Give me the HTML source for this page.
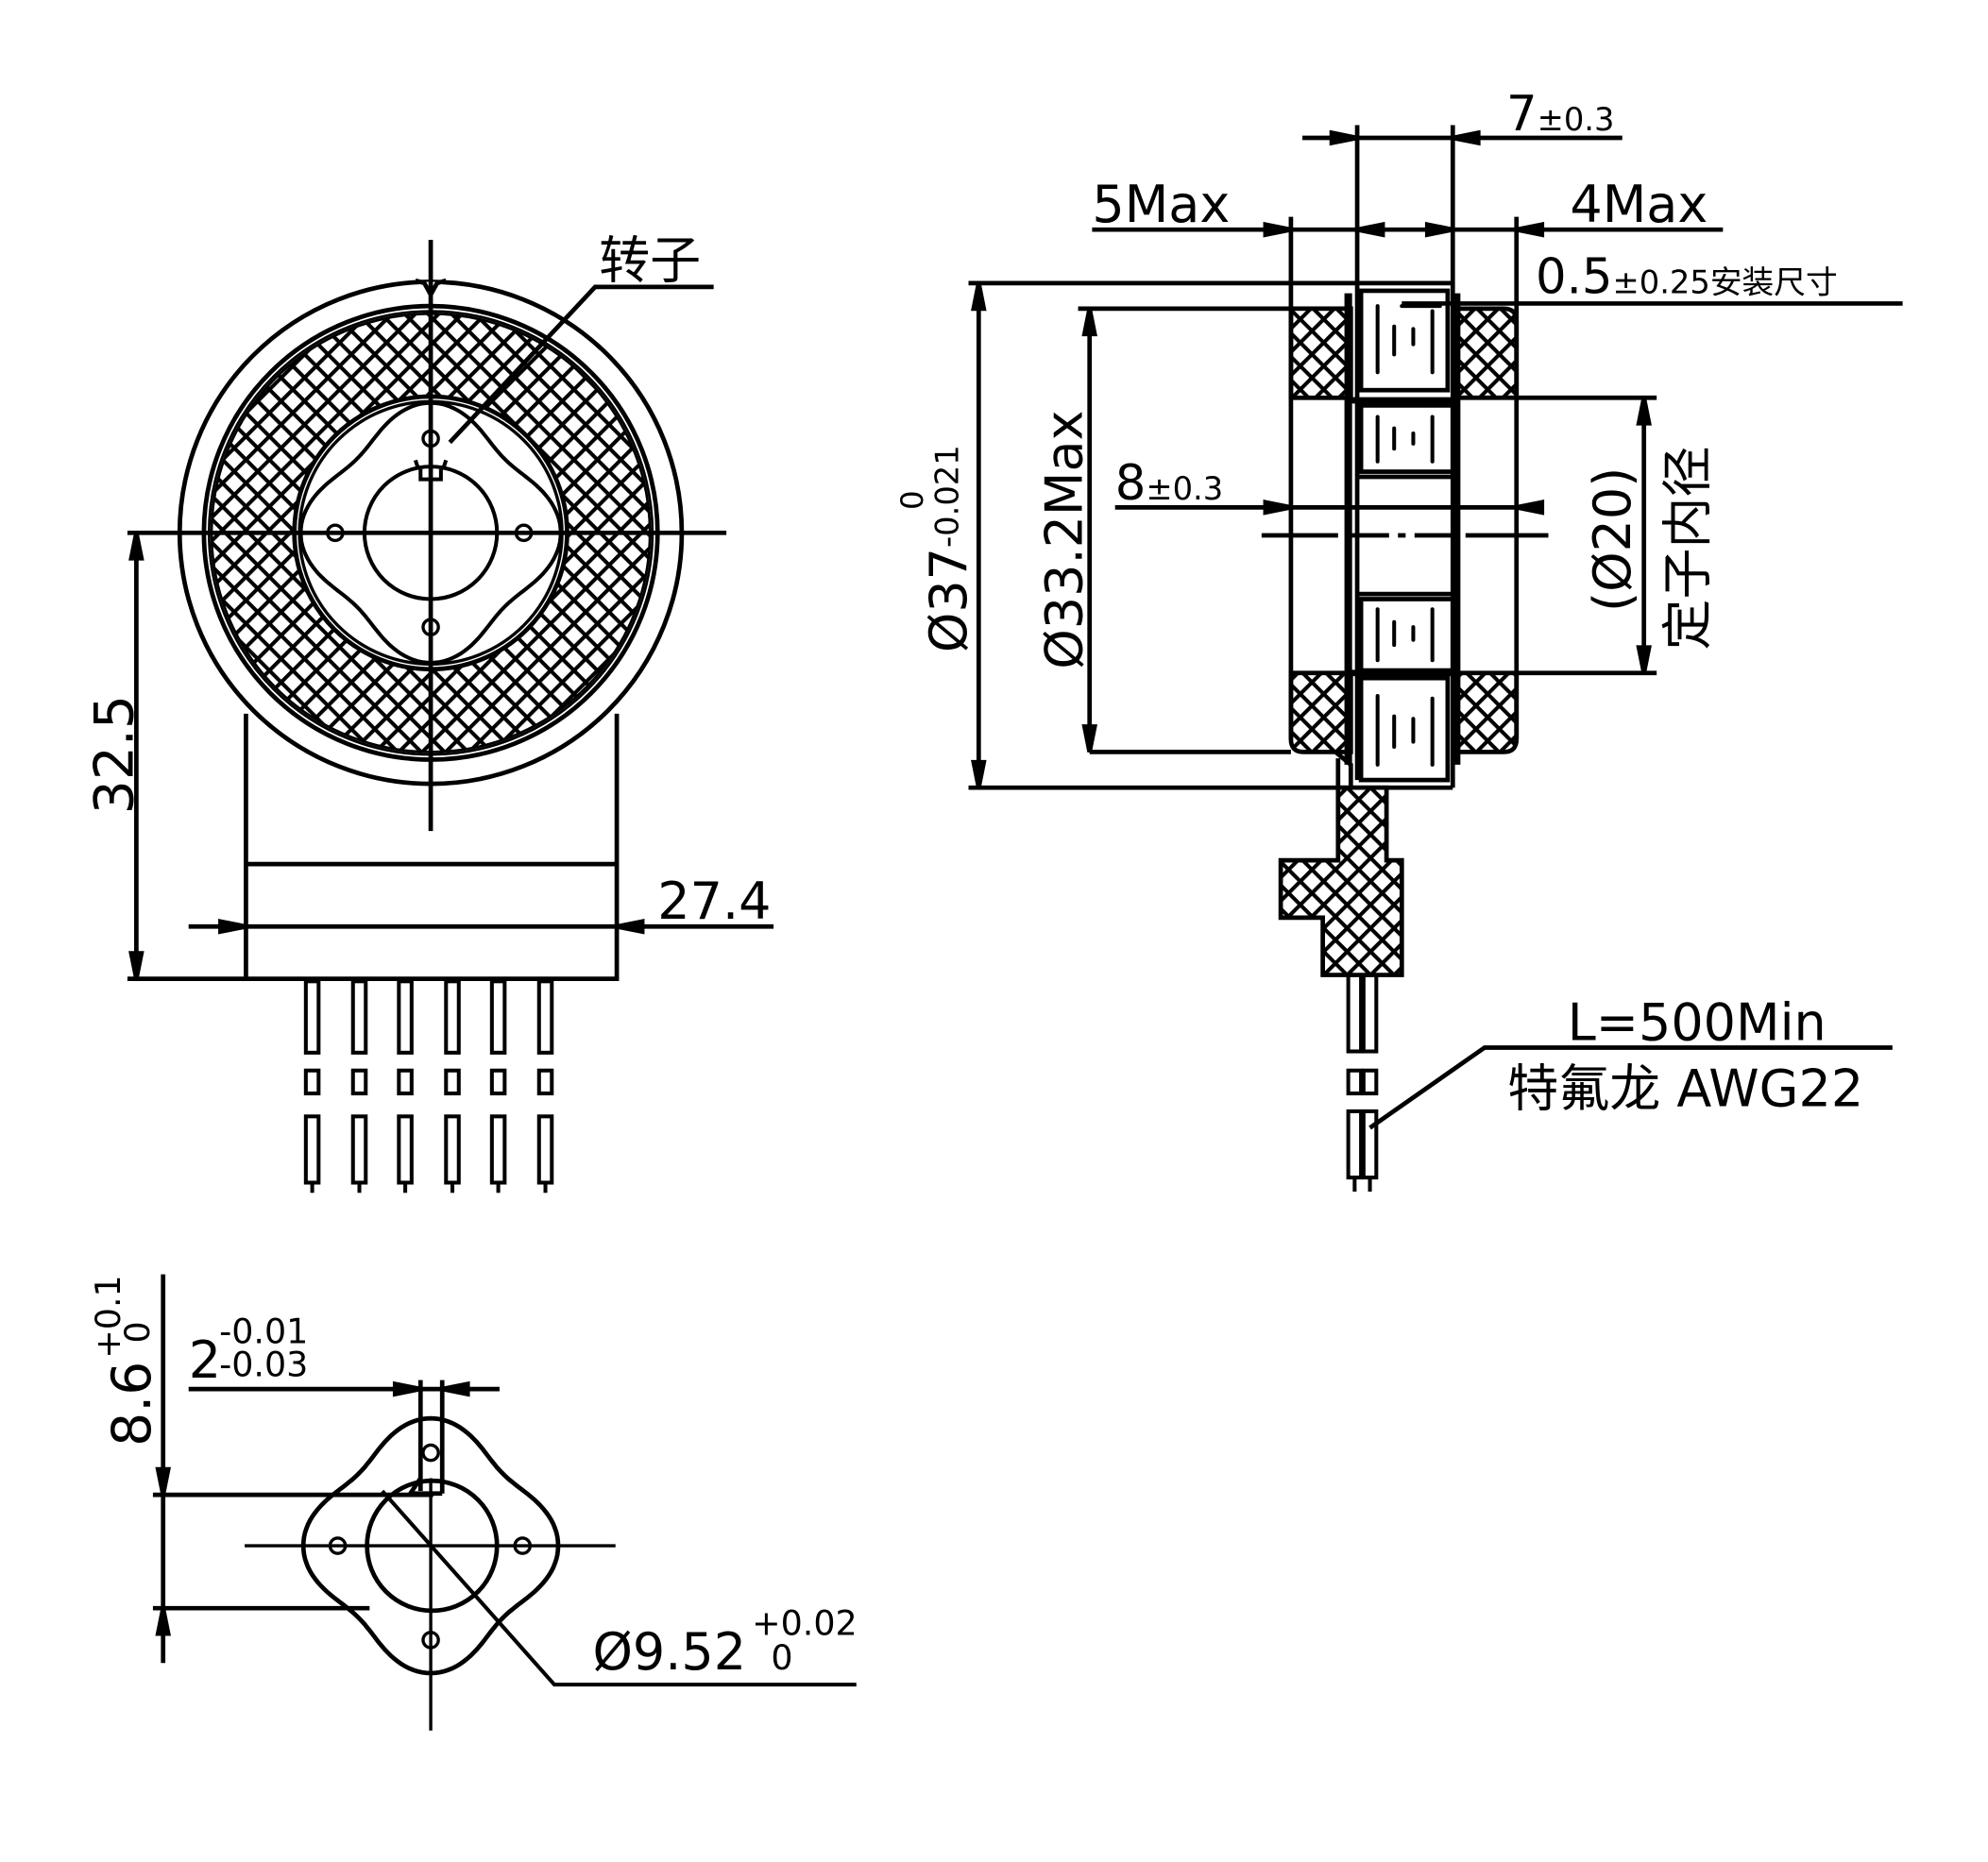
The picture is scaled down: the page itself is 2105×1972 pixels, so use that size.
<!DOCTYPE html>
<html><head><meta charset="utf-8"><style>
html,body{margin:0;padding:0;background:#fff}
svg{display:block}
text{font-family:"DejaVu Sans","Noto Sans CJK SC",sans-serif;fill:#000}
</style></head><body>
<svg id="s" width="2105" height="1972" viewBox="0 0 1560 1461" xmlns="http://www.w3.org/2000/svg">
<defs>
<pattern id="h" width="13" height="13" patternUnits="userSpaceOnUse" patternTransform="rotate(45)">
<rect width="13" height="13" fill="#fff"/>
<rect x="0" y="0" width="3" height="13" fill="#000"/><rect x="0" y="0" width="13" height="3" fill="#000"/>
</pattern>
</defs>
<g fill="none" stroke="#000" stroke-width="3.5">
<!-- LEFT VIEW -->
<path d="M193,560V768H484V560" />
<line x1="193" y1="678" x2="484" y2="678"/>
<circle cx="338" cy="418" r="197" fill="#fff"/>
<path d="M330,221 l8,9 l8,-9" fill="#fff" stroke="#fff" stroke-width="4"/>
<path d="M326,220 l7,2 l5,9 l5,-9 l7,-2"/>
<circle cx="338" cy="418" r="178"/>
<circle cx="338" cy="418" r="174" stroke-width="2"/>
<path d="M338,246a172,172 0 1,0 0.1,0z M338,311a107,107 0 1,1 -0.1,0z" fill="url(#h)" fill-rule="evenodd" stroke="none"/>
<circle cx="338" cy="418" r="172" stroke-width="2"/>
<circle cx="338" cy="418" r="107"/>
<circle cx="338" cy="418" r="103" fill="#fff" stroke-width="2.5"/>
<path id="f1" stroke-width="3" fill="#fff"/>
<circle cx="338" cy="418" r="52" stroke-width="3"/>
<path d="M328,367 l-2,-6 M348,367 l2,-6 M330,368 v8 h16 v-8" stroke-width="3" fill="#fff"/>
<circle cx="338" cy="344" r="6" stroke-width="2.5"/><circle cx="263" cy="418" r="6" stroke-width="2.5"/>
<circle cx="411" cy="418" r="6" stroke-width="2.5"/><circle cx="338" cy="492" r="6" stroke-width="2.5"/>
<line x1="100" y1="418" x2="570" y2="418"/>
<line x1="338" y1="188" x2="338" y2="652"/>
<path d="M353,347L467,225H560"/>
<!-- 32.5 -->
<line x1="100" y1="768" x2="193" y2="768"/>
<line x1="107" y1="418" x2="107" y2="768"/>
<path d="M103,438L107,418L111,438z M103,748L107,768L111,748z" fill="#000"/>
<!-- 27.4 -->
<line x1="148" y1="727" x2="607" y2="727"/>
<path d="M173,723L193,727L173,731z M504,723L484,727L504,731z" fill="#000"/>
<g id="pins" stroke-width="3"></g>

<!-- RIGHT VIEW -->
<line x1="760" y1="222" x2="1140" y2="222"/>
<line x1="760" y1="618" x2="1140" y2="618"/>
<line x1="768" y1="222" x2="768" y2="618"/>
<path d="M764,242L768,222L772,242z M764,598L768,618L772,598z" fill="#000"/>
<line x1="846" y1="242" x2="1060" y2="242"/>
<line x1="855" y1="590" x2="1013" y2="590"/>
<line x1="855" y1="242" x2="855" y2="590"/>
<path d="M851,262L855,242L859,262z M851,570L855,590L859,570z" fill="#000"/>
<rect x="1013" y="242" width="47" height="70" fill="url(#h)"/>
<path d="M1013,528H1060V590H1023Q1013,590 1013,580Z" fill="url(#h)"/>
<path d="M1143,242H1180Q1190,242 1190,252V312H1143Z" fill="url(#h)"/>
<path d="M1143,528H1190V580Q1190,590 1180,590H1143Z" fill="url(#h)"/>
<line x1="1013" y1="170" x2="1013" y2="580"/>
<line x1="1190" y1="170" x2="1190" y2="580"/>
<line x1="1065" y1="98" x2="1065" y2="612"/>
<line x1="1140" y1="98" x2="1140" y2="618"/>
<line x1="1058" y1="230" x2="1058" y2="600" stroke-width="6"/>
<line x1="1143" y1="230" x2="1143" y2="600" stroke-width="6"/>
<rect x="1068" y="228" width="68" height="78"/>
<rect x="1068" y="318" width="72" height="52"/>
<rect x="1068" y="470" width="72" height="56"/>
<rect x="1068" y="532" width="68" height="80"/>
<line x1="1060" y1="314" x2="1143" y2="314" stroke-width="5"/>
<line x1="1060" y1="528" x2="1143" y2="528" stroke-width="5"/>
<line x1="1065" y1="374" x2="1140" y2="374"/>
<line x1="1065" y1="466" x2="1140" y2="466"/>
<g stroke-width="3" stroke-linecap="round">
<path d="M1081,240V292M1094,256V278M1109,258V270M1124,244V292"/>
<path d="M1081,327V362M1094,336V352M1109,340V348M1124,327V362"/>
<path d="M1081,478V518M1094,488V506M1109,492V502M1124,478V518"/>
<path d="M1081,546V600M1094,562V586M1109,564V582M1124,548V600"/>
<path d="M1100,240H1130"/>
</g>
<line x1="1190" y1="312" x2="1300" y2="312"/>
<line x1="1190" y1="528" x2="1300" y2="528"/>
<line x1="1290" y1="312" x2="1290" y2="528"/>
<path d="M1286,332L1290,312L1294,332z M1286,508L1290,528L1294,508z" fill="#000"/>
<line x1="875" y1="398" x2="1190" y2="398"/>
<path d="M993,394L1013,398L993,402z M1210,394L1190,398L1210,402z" fill="#000"/>
<path d="M990,420H1050M1060,420H1090M1097,420H1103M1110,420H1140M1150,420H1215"/>
<line x1="1022" y1="108" x2="1273" y2="108"/>
<path d="M1045,104L1065,108L1045,112z M1160,104L1140,108L1160,112z" fill="#000"/>
<line x1="857" y1="180" x2="1352" y2="180"/>
<path d="M993,176L1013,180L993,184z M1085,176L1065,180L1085,184z M1120,176L1140,180L1120,184z M1210,176L1190,180L1210,184z" fill="#000"/>
<line x1="1100" y1="238" x2="1493" y2="238"/>
<path d="M1050,595V618H1050V675H1005V720H1038V765H1100V675H1088V618H1050" fill="url(#h)"/>
<path d="M1048,590L1060,600V618" />
<g stroke-width="3">
<rect x="1058" y="765" width="10" height="60"/><rect x="1070" y="765" width="10" height="60"/>
<rect x="1058" y="840" width="10" height="18"/><rect x="1070" y="840" width="10" height="18"/>
<rect x="1058" y="872" width="10" height="52"/><rect x="1070" y="872" width="10" height="52"/>
<path d="M1063,924V935M1075,924V935"/>
</g>
<path d="M1075,885L1165,822H1485"/>

<!-- BOTTOM VIEW -->
<path id="f2" stroke-width="3.5" fill="#fff"/>
<circle cx="339" cy="1213" r="51" stroke-width="3.5"/>
<circle cx="338" cy="1140" r="6" stroke-width="2.5"/><circle cx="265" cy="1213" r="6" stroke-width="2.5"/>
<circle cx="410" cy="1213" r="6" stroke-width="2.5"/><circle cx="338" cy="1287" r="6" stroke-width="2.5"/>
<line x1="192" y1="1213" x2="483" y2="1213" stroke-width="2.5"/>
<line x1="338" y1="1160" x2="338" y2="1358" stroke-width="2.5"/>
<path d="M330,1083V1170M347,1083V1172" />
<path d="M330,1160L322,1172H347" />
<line x1="148" y1="1090" x2="392" y2="1090"/>
<path d="M310,1086L330,1090L310,1094z M367,1086L347,1090L367,1094z" fill="#000"/>
<line x1="120" y1="1173" x2="340" y2="1173"/>
<line x1="120" y1="1262" x2="290" y2="1262"/>
<line x1="128" y1="1000" x2="128" y2="1305"/>
<path d="M124,1153L128,1173L132,1153z M124,1282L128,1262L132,1282z" fill="#000"/>
<path d="M300,1170L435,1322H672" stroke-width="3"/>
</g>

<text x="470" y="218" font-size="40">转子</text>
<text transform="translate(104,592) rotate(-90)" font-size="42" text-anchor="middle">32.5</text>
<text x="516" y="721" font-size="40">27.4</text>
<text x="857" y="174" font-size="40">5Max</text>
<text x="1232" y="174" font-size="40">4Max</text>
<text x="1182" y="102" font-size="38">7<tspan font-size="25">±0.3</tspan></text>
<text x="1205" y="230" font-size="38">0.5<tspan font-size="25">±0.25安装尺寸</tspan></text>
<text x="875" y="392" font-size="38">8<tspan font-size="25">±0.3</tspan></text>
<text transform="translate(758,512) rotate(-90)" font-size="40">Ø37<tspan font-size="25" dy="-6">-0.021</tspan></text>
<text transform="translate(724,400) rotate(-90)" font-size="24">0</text>
<text transform="translate(849,525) rotate(-90)" font-size="40">Ø33.2Max</text>
<text transform="translate(1279,480) rotate(-90)" font-size="40">(Ø20)</text>
<text transform="translate(1338,510) rotate(-90)" font-size="40">定子内径</text>
<text x="1230" y="816" font-size="40">L=500Min</text>
<text x="1183" y="868" font-size="40">特氟龙 AWG22</text>
<text x="148" y="1081" font-size="40">2</text>
<text x="172" y="1054" font-size="27">-0.01</text>
<text x="172" y="1080" font-size="27">-0.03</text>
<text transform="translate(118,1135) rotate(-90)" font-size="42">8.6</text>
<text transform="translate(94,1066) rotate(-90)" font-size="27">+0.1</text>
<text transform="translate(117,1054) rotate(-90)" font-size="27">0</text>
<text x="465" y="1310" font-size="40">Ø9.52</text>
<text x="590" y="1283" font-size="27">+0.02</text>
<text x="605" y="1310" font-size="27">0</text>
</svg>
<script>
function flower(cx,cy,a,b){var d="";for(var i=0;i<=360;i+=2){var t=i*Math.PI/180;var r=a+b*Math.cos(4*t);d+=(i?"L":"M")+(cx+r*Math.cos(t)).toFixed(1)+","+(cy+r*Math.sin(t)).toFixed(1);}return d+"Z";}
document.getElementById("f1").setAttribute("d",flower(338,418,92,10));
document.getElementById("f2").setAttribute("d",flower(338,1213,90,10));
var g=document.getElementById("pins"),h="";
[245,282,318,355,391,428].forEach(function(x){
h+='<rect x="'+(x-5)+'" y="770" width="10" height="56"/><rect x="'+(x-5)+'" y="840" width="10" height="18"/><rect x="'+(x-5)+'" y="876" width="10" height="52"/><path d="M'+x+',928V936"/>';
});
g.innerHTML=h;
</script>
</body></html>
